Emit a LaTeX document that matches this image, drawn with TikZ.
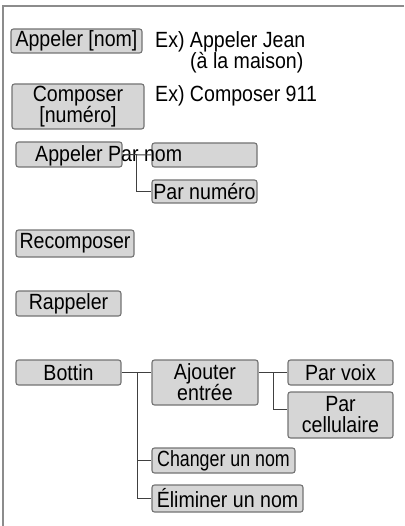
\documentclass[tikz,border=0pt]{standalone}
\usepackage{fontspec}
\setmainfont[FakeStretch=0.89]{Liberation Sans}
\usetikzlibrary{calc}
\tikzset{
  box/.style={draw=black!55, fill=black!16, rounded corners=2.5pt, line width=1.1pt,
    inner sep=0pt, align=center, font=\fontsize{22}{21}\selectfont},
  lbl/.style={inner sep=0pt, anchor=base west, font=\fontsize{22}{21}\selectfont},
  conn/.style={draw=black!75, line width=1pt},
  frame/.style={draw=black!45, line width=1.6pt}
}
\begin{document}
\begin{tikzpicture}[x=1pt,y=-1pt]
\useasboundingbox (0,0) rectangle (404,526);
\coordinate (fa) at (404,6);
\coordinate (fb) at (3,6);
\coordinate (fc) at (3,526);
\draw[frame] (fa) -- (fb) -- (fc);

\node[box, minimum width=131pt, minimum height=24pt] (b1) at (76.5,41) {Appeler [nom]};
\node[lbl] (ex1) at (155,48) {Ex) Appeler Jean};
\node[lbl] (ex1b) at (190,69) {(à la maison)};

\node[box, minimum width=132pt, minimum height=45pt] (b2) at (78,106.5) {Composer\\{}[numéro]};
\node[lbl] (ex2) at (155,102) {Ex) Composer 911};

\node[box, minimum width=106pt, minimum height=25pt] (b3a) at (69,154.5) {};
\node[box, minimum width=105pt, minimum height=24pt] (b3b) at (204.5,155) {};
\node[box, minimum width=105pt, minimum height=23pt] (b3c) at (204.5,191.5) {Par numéro};
\node[lbl] (t3) at (35,162) {Appeler Par nom};

\node[box, minimum width=118pt, minimum height=27pt] (rec) at (75,243.5) {Recomposer};
\node[box, minimum width=105pt, minimum height=25pt] (rap) at (68.5,303.5) {Rappeler};

\node[box, minimum width=105pt, minimum height=25pt] (bot) at (68.5,372.5) {Bottin};
\node[box, minimum width=106pt, minimum height=45pt] (ajo) at (205,382.5) {Ajouter\\entrée};
\node[box, minimum width=105pt, minimum height=25pt] (pv) at (340.5,372.5) {Par voix};
\node[box, minimum width=105pt, minimum height=46pt] (pc) at (340.5,415) {Par\\cellulaire};
\node[box, minimum width=143pt, minimum height=25pt] (chg) at (223.5,460.5) {\scalebox{0.91}[1]{Changer un nom}};
\node[box, minimum width=151pt, minimum height=27pt] (eli) at (227.5,498.5) {Éliminer un nom};

% connectors
\coordinate (j1) at ($(b3a.east)!0.47!(b3b.west)$);
\draw[conn] (b3a.east) -- (b3b.west);
\draw[conn] (j1) |- (b3c.west);

\coordinate (j2) at (137,372.5);
\draw[conn] (bot.east) -- (bot.east -| ajo.west);
\draw[conn] (j2) |- (eli.west);
\draw[conn] (j2 |- chg.west) -- (chg.west);

\coordinate (j3) at (273,372.5);
\draw[conn] (pv.west -| ajo.east) -- (pv.west);
\draw[conn] (j3) |- ([yshift=6pt]pc.west);
\end{tikzpicture}
\end{document}
